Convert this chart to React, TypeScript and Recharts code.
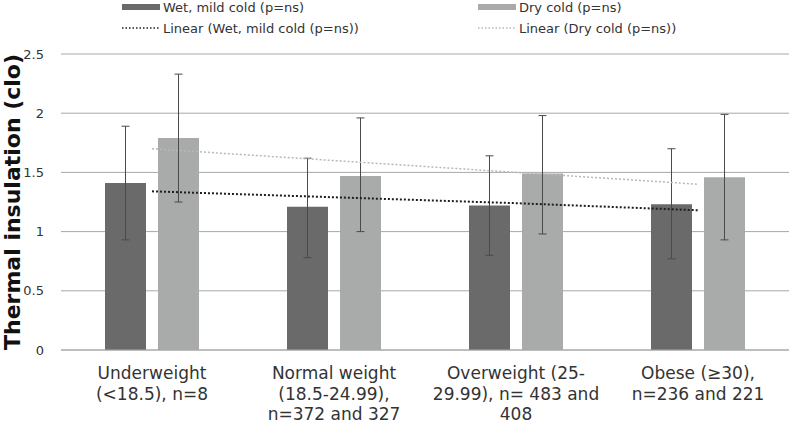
import React from 'react';
import {
  ComposedChart,
  Bar,
  Line,
  XAxis,
  YAxis,
  CartesianGrid,
  ErrorBar,
  Label,
} from 'recharts';

// ── Data ────────────────────────────────────────────────────────────
const CATEGORY_LINES = [
  ['Underweight', '(<18.5), n=8'],
  ['Normal weight', '(18.5-24.99),', 'n=372 and 327'],
  ['Overweight (25-', '29.99), n= 483 and', '408'],
  ['Obese (≥30),', 'n=236 and 221'],
];

const WET_MEAN = [1.41, 1.21, 1.22, 1.23];
const WET_LOW = [0.93, 0.78, 0.8, 0.77];
const WET_HIGH = [1.89, 1.62, 1.64, 1.7];

const DRY_MEAN = [1.79, 1.47, 1.49, 1.46];
const DRY_LOW = [1.25, 1.0, 0.98, 0.93];
const DRY_HIGH = [2.33, 1.96, 1.98, 1.99];

const WET_TREND = [1.34, 1.29, 1.24, 1.18];
const DRY_TREND = [1.7, 1.6, 1.5, 1.4];

const Y_TICKS = [0, 0.5, 1, 1.5, 2, 2.5];

const WET_COLOR = '#6b6a6a';
const DRY_COLOR = '#a9aaaa';
const WET_TREND_COLOR = '#1e1e1e';
const DRY_TREND_COLOR = '#b8b8b8';
const GRID_COLOR = '#a8a8a8';
const TEXT_COLOR = '#333333';
const FONT = '"DejaVu Sans", Verdana, sans-serif';

const data = CATEGORY_LINES.map((lines, i) => ({
  name: lines.join(' '),
  wet: WET_MEAN[i],
  wetErr: [WET_MEAN[i] - WET_LOW[i], WET_HIGH[i] - WET_MEAN[i]],
  dry: DRY_MEAN[i],
  dryErr: [DRY_MEAN[i] - DRY_LOW[i], DRY_HIGH[i] - DRY_MEAN[i]],
  wetTrend: WET_TREND[i],
  dryTrend: DRY_TREND[i],
}));

// ── Multi-line category tick ────────────────────────────────────────
function CategoryTick({ x, index }: any) {
  const lines = CATEGORY_LINES[index] || [];
  return (
    <text x={x} y={379} textAnchor="middle" fill={TEXT_COLOR} fontSize={17} fontFamily={FONT}>
      {lines.map((l, i) => (
        <tspan key={i} x={x} y={379 + i * 20.5}>
          {l}
        </tspan>
      ))}
    </text>
  );
}

// ── Legend (2 x 2 grid above the plot) ──────────────────────────────
function LegendItem({ left, top, kind, color, label }: any) {
  return (
    <div style={{ position: 'absolute', left, top, display: 'flex', alignItems: 'center', height: 14 }}>
      {kind === 'rect' ? (
        <div style={{ width: 38, height: 6, background: color }} />
      ) : (
        <svg width={38} height={4}>
          <line x1={0} y1={2} x2={38} y2={2} stroke={color} strokeWidth={1.5} strokeDasharray="1.5 2" />
        </svg>
      )}
      <span style={{ marginLeft: 3, fontSize: 13, color: TEXT_COLOR, fontFamily: FONT, whiteSpace: 'nowrap' }}>
        {label}
      </span>
    </div>
  );
}

export default function App() {
  return (
    <div style={{ position: 'absolute', left: 0, top: 0, width: 790, height: 424, background: '#fff' }}>
      <LegendItem left={122} top={0} kind="rect" color={WET_COLOR} label="Wet, mild cold (p=ns)" />
      <LegendItem left={478} top={0} kind="rect" color={DRY_COLOR} label="Dry cold (p=ns)" />
      <LegendItem left={122} top={21} kind="line" color={WET_TREND_COLOR} label="Linear (Wet, mild cold (p=ns))" />
      <LegendItem left={478} top={21} kind="line" color={DRY_TREND_COLOR} label="Linear (Dry cold (p=ns))" />

      <ComposedChart
        width={790}
        height={424}
        data={data}
        margin={{ top: 54, right: 1, bottom: 0, left: 0 }}
        barSize={41}
        barGap={12}
      >
        <CartesianGrid vertical={false} stroke={GRID_COLOR} />
        <XAxis
          dataKey="name"
          height={74}
          interval={0}
          tickLine={false}
          axisLine={{ stroke: GRID_COLOR }}
          tick={<CategoryTick />}
        />
        <YAxis
          width={61}
          domain={[0, 2.5]}
          ticks={Y_TICKS}
          tickLine={false}
          axisLine={false}
          tickMargin={11}
          tick={{ fill: TEXT_COLOR, fontSize: 13, fontFamily: FONT }}
        >
          <Label
            value="Thermal insulation (clo)"
            angle={-90}
            position="insideLeft"
            offset={0}
            dx={12}
            style={{ fill: '#111', fontSize: 22, fontWeight: 'bold', fontFamily: FONT, textAnchor: 'middle' }}
          />
        </YAxis>
        <Bar dataKey="wet" fill={WET_COLOR} isAnimationActive={false}>
          <ErrorBar dataKey="wetErr" width={4} stroke="#4a4a4a" strokeWidth={1} />
        </Bar>
        <Bar dataKey="dry" fill={DRY_COLOR} isAnimationActive={false}>
          <ErrorBar dataKey="dryErr" width={4} stroke="#4a4a4a" strokeWidth={1} />
        </Bar>
        <Line
          dataKey="wetTrend"
          stroke={WET_TREND_COLOR}
          strokeWidth={2}
          strokeDasharray="2 2"
          dot={false}
          isAnimationActive={false}
        />
        <Line
          dataKey="dryTrend"
          stroke={DRY_TREND_COLOR}
          strokeWidth={1.5}
          strokeDasharray="2 2"
          dot={false}
          isAnimationActive={false}
        />
      </ComposedChart>
    </div>
  );
}
